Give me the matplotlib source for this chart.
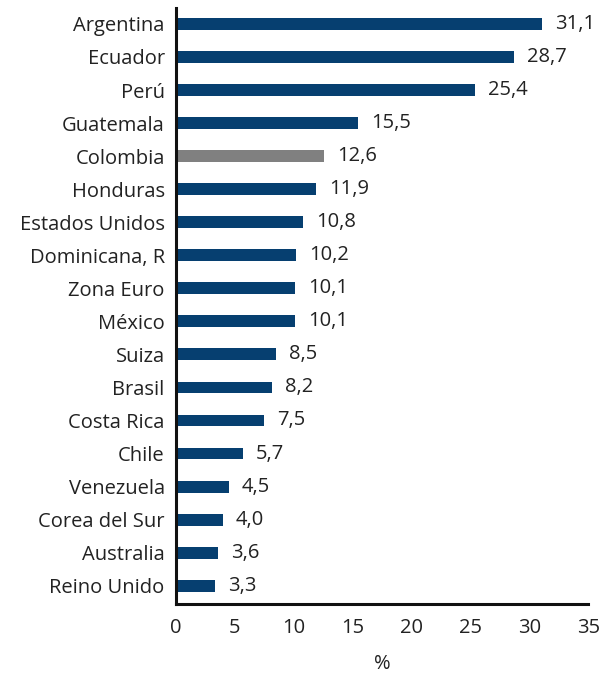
import matplotlib.pyplot as plt
import numpy as np

# Data
countries = ["Argentina", "Ecuador", "Perú", "Guatemala", "Colombia", "Honduras",
             "Estados Unidos", "Dominicana, R", "Zona Euro", "México", "Suiza",
             "Brasil", "Costa Rica", "Chile", "Venezuela", "Corea del Sur",
             "Australia", "Reino Unido"]
values = [31.1, 28.7, 25.4, 15.5, 12.6, 11.9, 10.8, 10.2, 10.1, 10.1, 8.5,
          8.2, 7.5, 5.7, 4.5, 4.0, 3.6, 3.3]
highlight = "Colombia"
xticks = [0, 5, 10, 15, 20, 25, 30, 35]

blue = '#063f70'
grey = '#808080'
txt = '#222222'
fs = 14.5

plt.rcParams['font.family'] = ['Open Sans', 'DejaVu Sans']

fig = plt.figure(figsize=(6.02, 6.74), dpi=100)
ax = fig.add_axes([0.292, 0.104, 0.685, 0.884])

ypos = np.arange(len(countries))
colors = [grey if c == highlight else blue for c in countries]
ax.barh(ypos, values, height=0.36, color=colors)

for y, v in zip(ypos, values):
    ax.text(v + 1.1, y, f"{v:.1f}".replace('.', ','), va='center', ha='left',
            fontsize=fs, color=txt)

ax.set_yticks(ypos)
ax.set_yticklabels(countries, fontsize=fs, color=txt)
ax.set_ylim(len(countries) - 1 + 0.55, -0.48)
ax.set_xlim(0, 35)
ax.set_xticks(xticks)
ax.set_xticklabels([str(t) for t in xticks], fontsize=fs, color=txt)
ax.tick_params(axis='both', length=0)
ax.tick_params(axis='x', pad=10)
ax.tick_params(axis='y', pad=8)
ax.set_xlabel('%', fontsize=fs, color=txt, labelpad=12)

for s in ['top', 'right']:
    ax.spines[s].set_visible(False)
for s in ['left', 'bottom']:
    ax.spines[s].set_linewidth(2.2)
    ax.spines[s].set_color('#111111')

fig.savefig('out.png', dpi=100)
